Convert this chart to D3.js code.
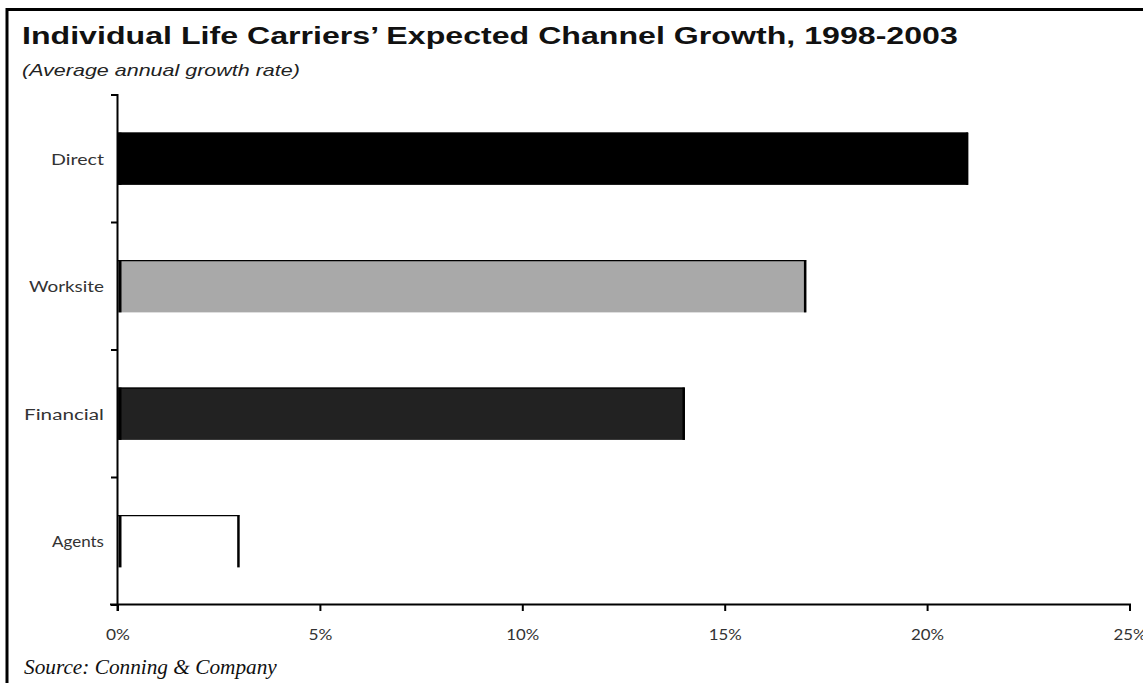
<!DOCTYPE html>
<html>
<head>
<meta charset="utf-8">
<script src="https://cdn.jsdelivr.net/npm/d3@7"></script>
<style>
  body { margin: 0; background: #fff; }
  svg { display: block; }
</style>
</head>
<body>
<svg id="chart" width="1143" height="683"></svg>
<script>
// channels, top to bottom
var channels = ["Direct", "Worksite", "Financial", "Agents"];
var growth = [21, 17, 14, 3];
var fills = ["#000000", "#a9a9a9", "#222222", "#ffffff"];
var xTicks = [0, 5, 10, 15, 20, 25];

var svg = d3.select("#chart");

// the original is stretched sideways: squeeze/stretch a text to a given width
// anchor: 0 = start, 0.5 = middle, 1 = end
function fit(t, x0, y0, w, anchor) {
  var natural = t.node().getComputedTextLength();
  var sx = w / natural;
  t.attr("x", 0).attr("y", 0)
    .attr("transform", "translate(" + (x0 - anchor * w) + "," + y0 + ") scale(" + sx + ",1)");
  return t;
}

// outer frame, runs off the right and bottom of the page
svg.append("rect")
  .attr("x", 7)
  .attr("y", 9.5)
  .attr("width", 1160)
  .attr("height", 700)
  .attr("fill", "none")
  .attr("stroke", "black")
  .attr("stroke-width", 3);

fit(svg.append("text")
  .attr("font-family", "Liberation Sans, Arial, sans-serif")
  .attr("font-weight", "bold")
  .attr("font-size", 24)
  .attr("fill", "#111")
  .text("Individual Life Carriers\u2019 Expected Channel Growth, 1998-2003"), 22, 44, 936, 0);

fit(svg.append("text")
  .attr("font-family", "Liberation Sans, Arial, sans-serif")
  .attr("font-style", "italic")
  .attr("font-size", 16)
  .attr("fill", "#222")
  .text("(Average annual growth rate)"), 22, 76, 278, 0);

var left = 118, right = 1130, plotTop = 95, plotBottom = 605;

var x = d3.scaleLinear().domain([0, 25]).range([left, right]);
var y = d3.scaleBand().domain(channels).range([plotTop, plotBottom]).paddingInner(0.59).paddingOuter(0.295);

// bars
var bars = svg.append("g");
channels.forEach(function(c, i) {
  var y0 = y(c), h = y.bandwidth(), x1 = x(growth[i]);
  bars.append("rect")
    .attr("x", x(0))
    .attr("y", y0)
    .attr("width", x1 - x(0))
    .attr("height", h)
    .attr("fill", fills[i]);
  bars.append("line")
    .attr("x1", x(0)).attr("x2", x1)
    .attr("y1", y0 + 0.5).attr("y2", y0 + 0.5)
    .attr("stroke", "black").attr("stroke-width", 1.2);
  bars.append("line")
    .attr("x1", x(0) + 2).attr("x2", x(0) + 2)
    .attr("y1", y0).attr("y2", y0 + h)
    .attr("stroke", "black").attr("stroke-width", 3);
  bars.append("line")
    .attr("x1", x1 - 1).attr("x2", x1 - 1)
    .attr("y1", y0).attr("y2", y0 + h)
    .attr("stroke", "black").attr("stroke-width", 2.5);
});

// y axis with ticks at the band boundaries
svg.append("line")
  .attr("x1", left - 0.5).attr("x2", left - 0.5)
  .attr("y1", plotTop - 1).attr("y2", plotBottom + 6)
  .attr("stroke", "black").attr("stroke-width", 2);

var bounds = channels.map(function(c) { return y(c) - y.step() * y.paddingInner() / 2; });
bounds.push(plotBottom);
svg.append("g").selectAll("line").data(bounds).enter().append("line")
  .attr("x1", left - 7).attr("x2", left)
  .attr("y1", function(d) { return d; })
  .attr("y2", function(d) { return d; })
  .attr("stroke", "black").attr("stroke-width", 2);

var labelWidths = { "Direct": 53, "Worksite": 75, "Financial": 80, "Agents": 52 };
var catLabels = svg.append("g");
channels.forEach(function(c) {
  fit(catLabels.append("text")
    .attr("font-family", "Lato, DejaVu Sans, sans-serif")
    .attr("font-size", 16)
    .attr("fill", "#333")
    .text(c), 104, y(c) + y.bandwidth() / 2 + 6, labelWidths[c], 1);
});

// x axis
svg.append("line")
  .attr("x1", left - 8).attr("x2", right + 1)
  .attr("y1", plotBottom - 0.5).attr("y2", plotBottom - 0.5)
  .attr("stroke", "black").attr("stroke-width", 2);

svg.append("g").selectAll("line").data(xTicks).enter().append("line")
  .attr("x1", function(d) { return x(d); })
  .attr("x2", function(d) { return x(d); })
  .attr("y1", plotBottom - 1).attr("y2", plotBottom + 6)
  .attr("stroke", "black").attr("stroke-width", 2);

var tickLabels = svg.append("g");
xTicks.forEach(function(d) {
  fit(tickLabels.append("text")
    .attr("font-family", "Lato, DejaVu Sans, sans-serif")
    .attr("font-size", 14.5)
    .attr("fill", "#333")
    .text(d + "%"), x(d), 640, d < 10 ? 24 : 33, 0.5);
});

fit(svg.append("text")
  .attr("font-family", "Liberation Serif, Times New Roman, serif")
  .attr("font-style", "italic")
  .attr("font-size", 20)
  .attr("fill", "#111")
  .text("Source: Conning & Company"), 24, 674, 253, 0);
</script>
</body>
</html>
